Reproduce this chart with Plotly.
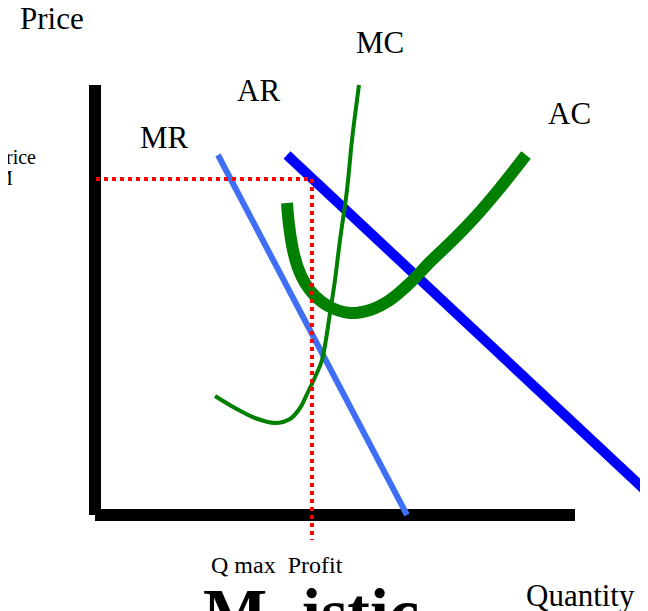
import plotly.graph_objects as go

# Diagram coordinates (quantity -> x, price -> y, y grows downward)
price_axis_q = [95, 95]
price_axis_p = [85, 515]
qty_axis_q = [95, 575]
qty_axis_p = [515, 515]

profit_h_q = [96, 312]
profit_h_p = [179, 179]
profit_v_q = [312, 312]
profit_v_p = [179, 540]

mr_q = [218, 407]
mr_p = [155, 515]

ar_q = [287, 645]
ar_p = [155, 490]

mc_q = [215, 235, 255, 275, 290, 300, 308, 316, 322, 330, 335, 340, 347, 352, 359]
mc_p = [396, 408, 418, 423, 419, 408, 392, 375, 360, 313, 280, 240, 190, 140, 85]

ac_q = [287, 289, 293, 298, 305, 315, 330, 350, 370, 390, 410, 430, 455, 477, 500, 526]
ac_p = [203, 225, 250, 268, 283, 296, 307, 313, 310, 300, 283, 262, 238, 215, 188, 155]

labels = ["Price", "MC", "AR", "MR", "AC", "Quantity", "Q max  Profit", "rice", "M"]
label_q = [52, 380, 258, 164, 569, 580, 277, 38, 15]
label_p = [18, 42, 90, 137, 113, 595, 565, 157, 178]
label_size = [31, 31, 31, 31, 31, 31, 24, 20, 20]
label_anchor = ["center", "center", "center", "center", "center", "center", "center", "right", "right"]

title_parts = ["M", "istic"]
title_q = [235, 360]
title_p = [572, 572]

fig = go.Figure()

def line(q, p, color, width, dash="solid", shape="linear"):
    fig.add_trace(go.Scatter(x=q, y=p, mode="lines",
                             line=dict(color=color, width=width, dash=dash, shape=shape),
                             hoverinfo="skip", showlegend=False))

line(price_axis_q, price_axis_p, "black", 12)
line(qty_axis_q, qty_axis_p, "black", 12)
line(mr_q, mr_p, "#3f6ff5", 6)
line(ar_q, ar_p, "#0000ff", 10)
line(mc_q, mc_p, "#008000", 4, shape="spline")
line(ac_q, ac_p, "#008000", 12, shape="spline")
line(profit_h_q, profit_h_p, "#ff0000", 4, dash="4px,4px")
line(profit_v_q, profit_v_p, "#ff0000", 4, dash="4px,4px")

for t, q, p, s, a in zip(labels, label_q, label_p, label_size, label_anchor):
    fig.add_annotation(x=q, y=p, text=t, showarrow=False, xanchor=a, yanchor="middle",
                       font=dict(family="Liberation Serif", size=s, color="black"))

for t, q, p in zip(title_parts, title_q, title_p):
    fig.add_annotation(x=q, y=p, text="<b>" + t + "</b>", showarrow=False,
                       xanchor="center", yanchor="top",
                       font=dict(family="Liberation Serif", size=68, color="black"))

# the page puts the figure 8px in from the top-left corner; ranges compensate
fig.update_layout(
    width=648, height=611,
    margin=dict(l=0, r=0, t=0, b=0),
    paper_bgcolor="white", plot_bgcolor="white",
    xaxis=dict(range=[8, 656], visible=False, fixedrange=True),
    yaxis=dict(range=[619, 8], visible=False, fixedrange=True),
)

fig.write_html("out.html")
